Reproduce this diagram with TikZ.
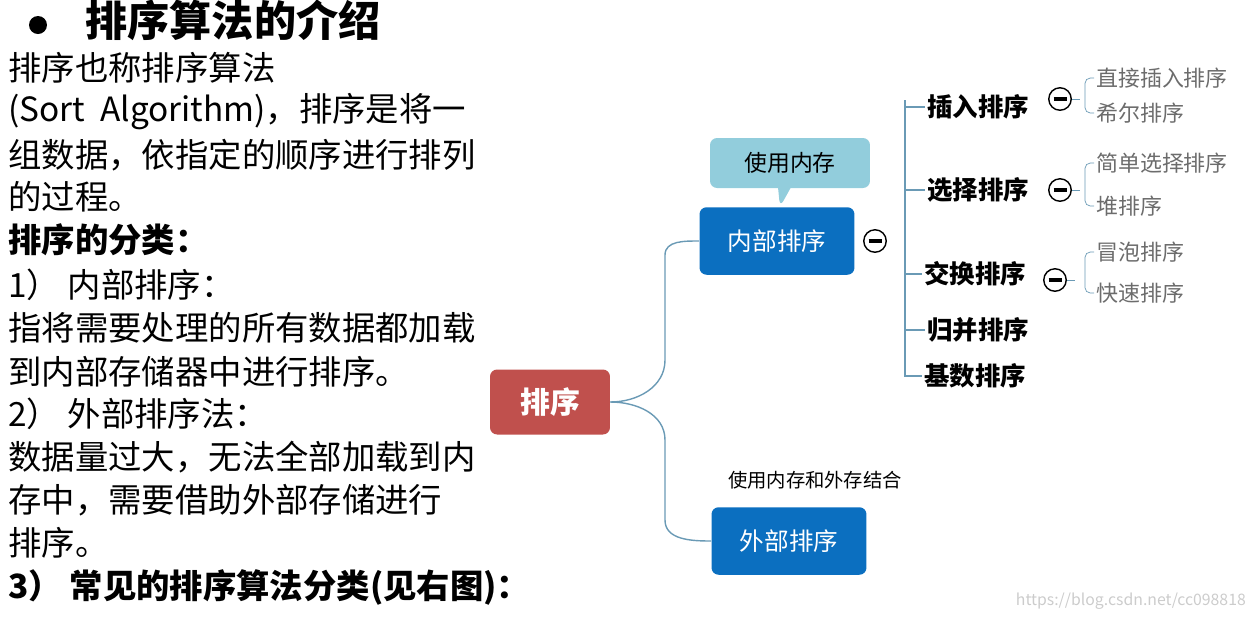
\documentclass[tikz,border=0pt]{standalone}
\usepackage{fontspec}
\setmainfont{Noto Sans CJK SC}
\usetikzlibrary{shapes.callouts}
\definecolor{redbox}{HTML}{C0504D}
\definecolor{bluebox}{HTML}{0B6FC0}
\definecolor{lightbox}{HTML}{92CDDC}
\definecolor{branch}{HTML}{6A9AB5}
\newcommand\foldbar{\rule{2.6mm}{0.9mm}}
\begin{document}
\begin{tikzpicture}
  [
  x=0.02cm,y=-0.02cm,
  line/.style={anchor=west,inner sep=0pt,font=\fontsize{19}{19}\selectfont},
  root/.style={rectangle,rounded corners=4pt,fill=redbox,text=white,font=\fontsize{17}{17}\selectfont\bfseries,minimum width=2.4cm,minimum height=1.3cm},
  group/.style={rectangle,rounded corners=4pt,fill=bluebox,text=white,font=\fontsize{14}{14}\selectfont,minimum width=3.1cm,minimum height=1.35cm},
  kind/.style={anchor=west,inner sep=1pt,font=\fontsize{14.5}{14.5}\selectfont\bfseries},
  sub/.style={anchor=west,inner sep=1pt,text=gray!85!black,font=\fontsize{12.5}{12.5}\selectfont},
  fold/.style={circle,draw,thick,fill=white,minimum size=0.45cm,inner sep=0pt},
  link/.style={draw=branch,thick}
  ]
  \useasboundingbox (0,0) rectangle (1258,620);

  % text on the left
  \node (dot) [circle,fill,inner sep=0pt,minimum size=0.36cm] at (38,25) {};
  \node (title) [anchor=west,inner sep=0pt] at (85,20) {\fontsize{24}{24}\selectfont\bfseries 排序算法的介绍};
  \begin{scope}
    \clip (0,40) rectangle (486,565);
    \node (t1) [line] at (8,68) {排序也称排序算法};
    \node (t2) [line] at (8,112) {(Sort\ \ Algorithm)，排序是将一};
    \node (t3) [line] at (8,155) {组数据，依指定的顺序进行排列};
    \node (t4) [line] at (8,197) {的过程。};
    \node (t5) [line] at (8,240) {\bfseries 排序的分类：};
    \node (t6) [line] at (8,285) {1） 内部排序：};
    \node (t7) [line] at (8,328) {指将需要处理的所有数据都加载};
    \node (t8) [line] at (8,372) {到内部存储器中进行排序。};
    \node (t9) [line] at (8,414) {2） 外部排序法：};
    \node (t10) [line] at (8,457) {数据量过大，无法全部加载到内};
    \node (t11) [line] at (8,500) {存中，需要借助外部存储进行};
    \node (t12) [line] at (8,543) {排序。};
  \end{scope}
  \node (t13) [line] at (8,587) {\bfseries 3） 常见的排序算法分类(见右图)：};

  % mind map
  \node (sort) [root] at (550,402) {排序};
  \node (inner) [group] at (777,241) {内部排序};
  \node (outer) [group] at (789,541) {外部排序};
  \node (mem) [rectangle callout,rounded corners=4pt,fill=lightbox,minimum width=3.2cm,minimum height=1cm,
    callout absolute pointer={(780,207)},font=\fontsize{13}{13}\selectfont] at (790,163) {使用内存};
  \node (mix) [font=\fontsize{11}{11}\selectfont] at (815,480) {使用内存和外存结合};

  \coordinate (fork) at (665,400);
  \draw [link] (sort.east) to[out=0,in=-90] (fork |- 360,360) -- (665,255) to[out=90,in=180] (inner.west);
  \draw [link] (sort.east) to[out=0,in=90] (fork |- 440,440) -- (665,520) to[out=-90,in=180] (outer.west);

  \node (f0) [fold] at (875,241) {\foldbar};
  \draw [link] (905,100) -- (905,377);

  \node (k1) [kind] at (925,107) {插入排序};
  \node (k2) [kind] at (925,190) {选择排序};
  \node (k3) [kind] at (922,274) {交换排序};
  \node (k4) [kind] at (925,330) {归并排序};
  \node (k5) [kind] at (922,376) {基数排序};
  \foreach \k in {k1,k2,k3,k4,k5}
    \draw [link] (905,0 |- \k.west) -- (\k.west);

  \node (f1) [fold] at (1060,99) {\foldbar};
  \node (f2) [fold] at (1060,190) {\foldbar};
  \node (f3) [fold] at (1055,280) {\foldbar};

  \node (s1) [sub] at (1094,78) {直接插入排序};
  \node (s2) [sub] at (1094,113) {希尔排序};
  \node (s3) [sub] at (1094,163) {简单选择排序};
  \node (s4) [sub] at (1094,206) {堆排序};
  \node (s5) [sub] at (1094,252) {冒泡排序};
  \node (s6) [sub] at (1094,293) {快速排序};
  \foreach \f/\a/\b in {f1/s1/s2,f2/s3/s4,f3/s5/s6}
  {
    \draw [link,thin] (\f.east) -- +(8,0);
    \draw [link,thin,rounded corners=3pt] (\a.west) -- (1085,0 |- \a.west) -- (1085,0 |- \b.west) -- (\b.west);
  }

  \node (mark) [anchor=east,text=gray!40,font=\fontsize{9}{9}\selectfont] at (1252,601) {https://blog.csdn.net/cc098818};
\end{tikzpicture}
\end{document}
